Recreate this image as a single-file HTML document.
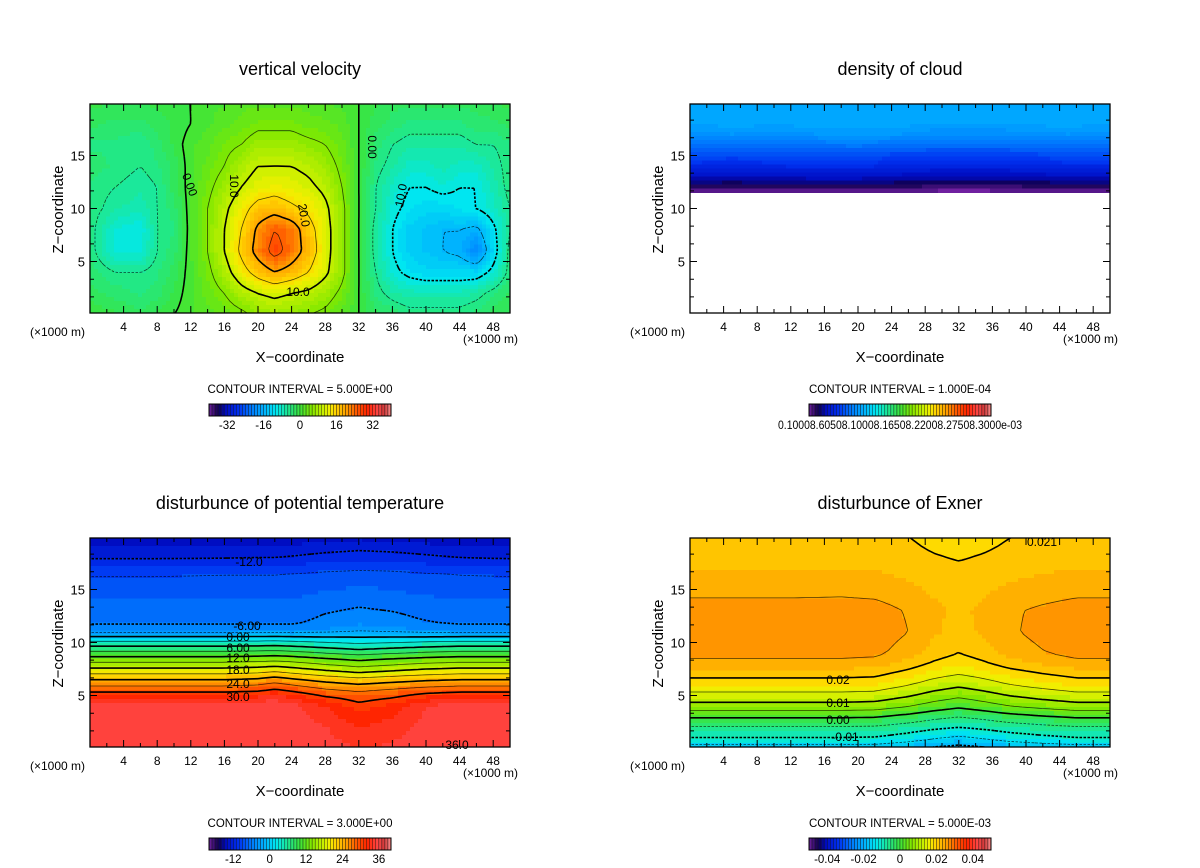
<!DOCTYPE html>
<html><head><meta charset="utf-8">
<style>
html,body{margin:0;padding:0;background:#fff;}
svg{display:block;font-family:"Liberation Sans",Arial,sans-serif;}
</style></head>
<body>
<svg id="root" width="1200" height="868" viewBox="0 0 1200 868" xmlns="http://www.w3.org/2000/svg"></svg>
<script>
// ---------- data ----------
const xTicks=[4,8,12,16,20,24,28,32,36,40,44,48];
const yTicks=[5,10,15];

// Panel 1: vertical velocity
const p1X=[0,3,6,8,10,12,14,16,18,20,22,24,26,28,30,32,34,36,38,40,42,44,46,48,50];
const p1Z=[0,2,4,6,8,10,12,14,16,18,20];
const p1V=[
[0,-1,-2,-1,0,1,2,3,4,6,7,6,5,4,2,0,-2,-3,-4,-4,-4,-4,-3,-2,-1],
[-2,-3,-4,-3,-1,1,3,5,8,10,11,10,9,7,4,0,-4,-6,-7,-7,-7,-7,-6,-4,-2],
[-3,-5,-5,-4,-2,1,4,8,13,17,20,18,15,11,6,0,-5,-9,-11,-12,-12,-12,-12,-9,-4],
[-4,-9,-9,-5,-3,1,5,10,16,22,27,23,18,12,6,0,-6,-10,-13,-14,-15,-16,-20,-12,-4],
[-4,-9,-10,-5,-4,1,5,10,15,21,25,23,17,12,6,0,-6,-10,-13,-14,-15,-15,-16,-11,-5],
[-4,-6,-7,-5,-3,1,5,9,13,17,18,16,14,11,6,0,-5,-9,-11,-12,-12,-11,-10,-8,-5],
[-4,-5,-6,-5,-2,1,4,7,10,12,13,12,11,9,5,0,-5,-8,-10,-10,-9,-10,-10,-7,-4],
[-3,-4,-5,-4,-2,1,3,5,8,10,10,10,9,7,4,0,-4,-6,-8,-8,-7,-8,-8,-6,-4],
[-4,-4,-5,-3,-1,1,2,4,5,7,7,7,6,5,3,0,-3,-5,-6,-6,-6,-6,-5,-5,-4],
[-2,-3,-3,-2,-1,0,1,2,3,4,4,4,3,3,2,0,-2,-3,-4,-4,-4,-4,-3,-3,-2],
[-1,-1,-1,-1,0,0,1,1,2,2,2,2,2,1,1,0,-1,-2,-2,-2,-2,-2,-2,-1,-1]];
const p1Levels=[-20,-15,-10,-5,0,5,10,15,20,25];
const p1Bar=["-32","-16","0","16","32"];
const p1BarVals=[-32,-16,0,16,32];

// Panel 2: density of cloud (x1e-3)
const p2X=[0,5,10,15,20,25,30,35,40,45,50];
const p2Z=[0,11.2,11.4,11.8,12.3,13,14,15,16,17,18,20];
const p2V=[
[0,0,0,0,0,0,0,0,0,0,0],
[0,0,0,0,0,0,0,0,0,0,0],
[0.05,0.05,0.05,0.06,0.07,0.07,0.05,0.05,0.05,0.05,0.05],
[0.16,0.15,0.16,0.17,0.17,0.16,0.14,0.14,0.15,0.16,0.16],
[0.26,0.25,0.26,0.27,0.27,0.25,0.23,0.23,0.24,0.26,0.26],
[0.38,0.37,0.38,0.39,0.39,0.37,0.35,0.35,0.36,0.38,0.38],
[0.52,0.51,0.52,0.53,0.53,0.51,0.49,0.49,0.50,0.52,0.52],
[0.64,0.63,0.64,0.64,0.64,0.62,0.61,0.61,0.62,0.64,0.64],
[0.76,0.76,0.76,0.77,0.78,0.76,0.74,0.74,0.75,0.76,0.76],
[0.86,0.88,0.86,0.88,0.90,0.88,0.84,0.84,0.86,0.88,0.86],
[0.92,0.94,0.93,0.94,0.95,0.94,0.92,0.92,0.93,0.94,0.92],
[0.94,0.95,0.94,0.95,0.96,0.95,0.94,0.94,0.94,0.95,0.94]];

// Panel 3: disturbance of potential temperature
const p3X=[0,8,16,20,22,24,28,32,36,40,44,50];
const p3Z=[0,2,4,4.8,5.5,6.5,7.5,8.5,9.5,10.5,11.2,12,14,16.5,18,20];
const p3V=[
[35.8,35.8,35.8,35.6,35.9,35.6,35.2,34.5,34.8,35.4,35.8,35.8],
[35.8,35.8,35.8,35.6,35.9,35.5,34.6,33,33.8,35,35.8,35.8],
[35.5,35.5,35.5,35.6,35.8,35.2,33,30.8,32,34.5,35.5,35.5],
[33,33,33,33.5,34,33,30.5,29,30,32,33,33],
[29,29,29,29.5,30.5,29.5,27.5,26.5,27.5,28.5,29,29],
[24,24,24,24.5,25.5,24.5,23,22,22.8,23.5,24,24],
[18.5,18.5,18.5,19,19.5,18.8,17.3,16,17,18,18.5,18.5],
[13,13,13,13.3,13.6,13.2,12,11,11.8,12.5,13,13],
[7,7,7,7.2,7.4,7,6,5,5.8,6.5,7,7],
[0.5,0.5,0.5,0.6,0.7,0.5,0.2,0,0.1,0.3,0.5,0.5],
[-5,-5,-5,-5,-5,-5,-4.5,-3.5,-4,-4.8,-5,-5],
[-6.5,-6.5,-6.5,-6.5,-6.5,-6.5,-5.5,-5,-5.3,-6,-6.5,-6.5],
[-7.5,-7.5,-7.5,-7.5,-7.5,-7.4,-6.9,-6.5,-6.8,-7.2,-7.5,-7.5],
[-9.2,-9.2,-9.1,-9.1,-9.1,-9,-8.7,-8.5,-8.6,-8.9,-9.1,-9.2],
[-12.2,-12.2,-12.1,-12,-12,-11.8,-11.3,-11,-11.2,-11.6,-12,-12.2],
[-15,-15,-15,-14.9,-14.9,-14.7,-14.3,-14,-14.2,-14.5,-14.8,-15]];
const p3Levels=[-15,-12,-9,-6,-3,0,3,6,9,12,15,18,21,24,27,30];
const p3Bar=["-12","0","12","24","36"];
const p3BarVals=[-12,0,12,24,36];

// Panel 4: disturbance of Exner (x1e-3)
const p4X=[0,6,12,18,22,26,29,32,35,38,42,46,50];
const p4Z=[0,1,2,3,4,5,6,7,8,9,11,13,15,17,19,20];
const p4V=[
[-18,-18,-18,-18,-18.2,-19.6,-21,-22,-21,-19.8,-18.8,-18,-18],
[-10,-10,-10,-10,-10.3,-12.4,-14.5,-16,-14.5,-12.7,-11.2,-10,-10],
[-5.5,-5.5,-5.5,-5.5,-5.7,-7.3,-8.9,-10,-8.9,-7.5,-6.4,-5.5,-5.5],
[0.5,0.5,0.5,0.5,0.2,-1.7,-3.6,-5,-3.6,-2,-0.6,0.5,0.5],
[8,8,8,8,7.6,5.2,2.8,1,2.8,4.9,6.6,8,8],
[13.5,13.5,13.5,13.5,13.1,10.5,7.9,6,7.9,10.1,12,13.5,13.5],
[18,18,18,18,17.7,15.2,12.8,11,12.8,14.9,16.6,18,18],
[21,21,21,21,20.7,18.6,16.5,15,16.5,18.3,19.8,21,21],
[24,24,24,24,23.7,21.6,19.5,18,19.5,21.3,22.8,24,24],
[26,26,26,26,25.7,23.6,21.5,20,21.5,23.3,24.8,26,26],
[27,27,27,27,26.7,25,22.9,21.5,22.9,24.5,26,27,27],
[26.5,26.5,26.5,26.5,26.3,24.7,23.1,22,23.1,24.5,25.6,26.5,26.5],
[24,24,24,24.2,23.9,23,22.1,21.5,22.1,23,23.5,24,24],
[22.5,22.5,22.5,22.5,22.4,21.7,21,20.5,21,21.6,22.1,22.5,22.5],
[21.5,21.5,21.5,21.5,21.4,20.5,19.6,19,19.6,20.4,21,21.5,21.5],
[21,21,21,21,20.9,20,19.1,18.5,19.1,19.9,20.5,21,21]];
const p4Levels=[-20,-15,-10,-5,0,5,10,15,20,25];
const p4Bar=["-0.04","-0.02","0","0.02","0.04"];
const p4BarVals=[-40,-20,0,20,40];

// ---------- helpers ----------
const NS="http://www.w3.org/2000/svg";
const root=document.getElementById('root');
function mk(tag,attrs,parent){const e=document.createElementNS(NS,tag);for(const k in attrs)e.setAttribute(k,attrs[k]);(parent||root).appendChild(e);return e;}
const stops=[[0,[112,32,160]],[0.05,[16,0,80]],[0.09,[0,10,190]],[0.16,[0,48,240]],[0.24,[0,128,255]],[0.3,[0,175,255]],[0.37,[0,232,240]],[0.44,[32,232,140]],[0.5,[60,228,60]],[0.56,[128,232,0]],[0.625,[200,240,0]],[0.66,[240,240,0]],[0.69,[255,216,0]],[0.75,[255,165,0]],[0.81,[255,90,0]],[0.87,[255,36,0]],[0.93,[255,72,72]],[0.965,[208,56,56]],[1,[255,144,144]]];
function cmap(t){t=Math.max(0,Math.min(1,t));for(let i=0;i<stops.length-1;i++){const a=stops[i],b=stops[i+1];if(t<=b[0]){const f=(t-a[0])/(b[0]-a[0]);const c=a[1].map((v,k)=>Math.round(v+(b[1][k]-v)*f));return `rgb(${c[0]},${c[1]},${c[2]})`;}}return 'rgb(255,144,144)';}
function seg(arr,v){let i=0;while(i<arr.length-2&&v>arr[i+1])i++;const f=Math.max(0,Math.min(1,(v-arr[i])/(arr[i+1]-arr[i])));return [i,f];}
function field(xs,zs,V,x,z){const [i,fx]=seg(xs,x),[j,fz]=seg(zs,z);const a=V[j][i],b=V[j][i+1],c=V[j+1][i],d=V[j+1][i+1];return (a*(1-fx)+b*fx)*(1-fz)+(c*(1-fx)+d*fx)*fz;}

const W=420,H=209,XMAX=50,ZMIN=0.15,ZMAX=19.85;
function drawPanel(cfg){
  const g=mk('g',{});
  const ox=cfg.ox,oy=cfg.oy;
  const sx=x=>ox+x/XMAX*W, sz=z=>oy+H-(z-ZMIN)/(ZMAX-ZMIN)*H;
  const cx=ox+W/2;
  mk('text',{x:cx,y:oy-29,'text-anchor':'middle','font-size':18,},g).textContent=cfg.title;
  const clipId='clip'+cfg.id;
  const cp=mk('clipPath',{id:clipId},g);mk('rect',{x:ox,y:oy,width:W,height:H},cp);
  const heat=mk('g',{'clip-path':`url(#${clipId})`,'shape-rendering':'crispEdges',},g);
  const NX=105,NZ=52,dx=W/NX,dz=H/NZ;
  const node=[];
  for(let j=0;j<=NZ;j++){node[j]=[];for(let i=0;i<=NX;i++){const x=i*dx/W*XMAX,z=ZMIN+(H-j*dz)/H*(ZMAX-ZMIN);node[j][i]=field(cfg.xs,cfg.zs,cfg.V,x,z);}}
  for(let j=0;j<NZ;j++)for(let i=0;i<NX;i++){
    const x=(i+0.5)*dx/W*XMAX,z=ZMIN+(H-(j+0.5)*dz)/H*(ZMAX-ZMIN);
    let v=field(cfg.xs,cfg.zs,cfg.V,x,z);
    if(cfg.blank!==undefined&&v<cfg.blank)continue;
    if(cfg.step)v=Math.floor(v/cfg.step)*cfg.step+cfg.step/2;
    const r=mk('rect',{x:(ox+i*dx).toFixed(2),y:(oy+j*dz).toFixed(2),width:(dx+0.6).toFixed(2),height:(dz+0.6).toFixed(2),fill:cmap((v-cfg.vmin)/(cfg.vmax-cfg.vmin))},heat);
    
    
  }
  (cfg.levels||[]).forEach(L=>{
    let d='';
    for(let j=0;j<NZ;j++)for(let i=0;i<NX;i++){
      const a=node[j][i],b=node[j][i+1],c=node[j+1][i+1],e=node[j+1][i];
      const X0=ox+i*dx,Y0=oy+j*dz,pts=[];
      const ed=(v1,v2,p1,p2)=>{if((v1-L)*(v2-L)<0){const f=(L-v1)/(v2-v1);pts.push([p1[0]+(p2[0]-p1[0])*f,p1[1]+(p2[1]-p1[1])*f]);}};
      ed(a,b,[X0,Y0],[X0+dx,Y0]);ed(b,c,[X0+dx,Y0],[X0+dx,Y0+dz]);ed(e,c,[X0,Y0+dz],[X0+dx,Y0+dz]);ed(a,e,[X0,Y0],[X0,Y0+dz]);
      for(let k=0;k+1<pts.length;k+=2)d+=`M${pts[k][0].toFixed(1)} ${pts[k][1].toFixed(1)}L${pts[k+1][0].toFixed(1)} ${pts[k+1][1].toFixed(1)}`;
    }
    if(!d)return;
    const thick=cfg.thick(L);
    const p=mk('path',{d:d,fill:'none',stroke:'#000','stroke-width':thick?1.6:0.8,'stroke-opacity':thick?1:0.7,'clip-path':`url(#${clipId})`},g);
    if(L<0)p.setAttribute('stroke-dasharray','2.5 1.5');
    
    
  });
  (cfg.labels||[]).forEach(l=>{mk('text',{x:l[0],y:l[1],'font-size':12,'text-anchor':'middle',transform:l[3]?`rotate(${l[3]} ${l[0]} ${l[1]})`:'', },g).textContent=l[2];});
  mk('rect',{x:ox,y:oy,width:W,height:H,fill:'none',stroke:'#000','stroke-width':1.3,},g);
  let td='';
  for(let x=2;x<XMAX;x+=2){const big=x%4===0,L=big?7:4,X=sx(x);td+=`M${X} ${oy+H}v${-L}M${X} ${oy}v${L}`;}
  for(let z=5/3;z<ZMAX;z+=5/3){const big=Math.abs(z/5-Math.round(z/5))<0.01,L=big?7:4,Y=sz(z);td+=`M${ox} ${Y}h${L}M${ox+W} ${Y}h${-L}`;}
  mk('path',{d:td,stroke:'#000','stroke-width':1,fill:'none',},g);
  xTicks.forEach(x=>{mk('text',{x:sx(x),y:oy+H+18,'text-anchor':'middle','font-size':12,},g).textContent=x;});
  yTicks.forEach(z=>{mk('text',{x:ox-5,y:sz(z)+5,'text-anchor':'end','font-size':13,},g).textContent=z;});
  mk('text',{x:ox-60,y:oy+H+23,'font-size':12,},g).textContent='(×1000 m)';
  mk('text',{x:ox+W+8,y:oy+H+30,'font-size':12,'text-anchor':'end',},g).textContent='(×1000 m)';
  mk('text',{x:cx,y:oy+H+49,'text-anchor':'middle','font-size':15,},g).textContent='X−coordinate';
  mk('text',{x:ox-27,y:oy+H/2+1,'text-anchor':'middle','font-size':15,transform:`rotate(-90 ${ox-27} ${oy+H/2+1})`,},g).textContent='Z−coordinate';
  mk('text',{x:cx,y:oy+H+80,'text-anchor':'middle','font-size':11.5,},g).textContent=cfg.ci;
  const bg=mk('g',{},g);
  const bx=cx-91,by=oy+H+91,bw=182,bh=12,N=60;
  for(let k=0;k<N;k++){const r=mk('rect',{x:(bx+k*bw/N).toFixed(2),y:by,width:(bw/N).toFixed(2),height:bh,fill:cmap((k+0.5)/N),stroke:'#111','stroke-width':0.4},bg);
    }
  mk('rect',{x:bx,y:by,width:bw,height:bh,fill:'none',stroke:'#000','stroke-width':1},bg);
  if(cfg.barLabels){cfg.barLabels.forEach((s,k)=>{const v=cfg.barVals[k];mk('text',{x:bx+(v-cfg.vmin)/(cfg.vmax-cfg.vmin)*bw,y:by+bh+13,'text-anchor':'middle','font-size':11.5,},bg).textContent=s;});}
  if(cfg.barText){mk('text',{x:cx,y:by+bh+13,'text-anchor':'middle','font-size':11.5,textLength:244,lengthAdjust:'spacingAndGlyphs',},bg).textContent=cfg.barText;}
}

drawPanel({id:1,name:'panel-vertical-velocity',title:'vertical velocity',ox:90,oy:104,xs:p1X,zs:p1Z,V:p1V,vmin:-40,vmax:40,step:1.25,levels:p1Levels,
  thick:L=>L%10===0,ci:'CONTOUR INTERVAL = 5.000E+00',barLabels:p1Bar,barVals:p1BarVals,
  labels:[[186,186,'0.00',70],[230,186,'10.0',90],[300,216,'20.0',80],[298,296,'10.0',0],[368,147,'0.00',90],[405,196,'10.0',-80]]});
drawPanel({id:2,name:'panel-density-of-cloud',title:'density of cloud',ox:690,oy:104,xs:p2X,zs:p2Z,V:p2V,vmin:0.1,vmax:3.0,step:0.04,blank:0.1,levels:[],
  thick:()=>false,ci:'CONTOUR INTERVAL = 1.000E-04',barText:'0.10008.60508.10008.16508.22008.27508.3000e-03'});
drawPanel({id:3,name:'panel-potential-temperature',title:'disturbunce of potential temperature',ox:90,oy:538,xs:p3X,zs:p3Z,V:p3V,vmin:-20,vmax:40,step:1.5,levels:p3Levels,
  thick:L=>L%6===0,ci:'CONTOUR INTERVAL = 3.000E+00',barLabels:p3Bar,barVals:p3BarVals,
  labels:[[249,566,'-12.0'],[247,630,'-6.00'],[238,641,'0.00'],[238,652,'6.00'],[238,662,'12.0'],[238,674,'18.0'],[238,688,'24.0'],[238,701,'30.0'],[457,749,'36.0']]});
drawPanel({id:4,name:'panel-exner',title:'disturbunce of Exner',ox:690,oy:538,xs:p4X,zs:p4Z,V:p4V,vmin:-50,vmax:50,step:2.5,levels:p4Levels,
  thick:L=>L%10===0,ci:'CONTOUR INTERVAL = 5.000E-03',barLabels:p4Bar,barVals:p4BarVals,
  labels:[[838,684,'0.02'],[838,707,'0.01'],[838,724,'0.00'],[845,741,'-0.01'],[1042,546,'0.021']]});
</script>
</body></html>
